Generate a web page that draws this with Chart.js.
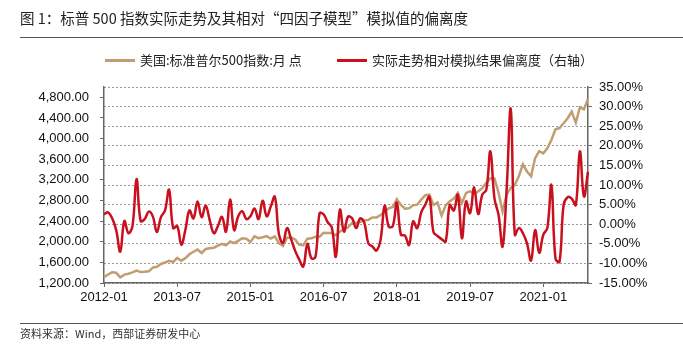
<!DOCTYPE html>
<html>
<head>
<meta charset="utf-8">
<script src="https://cdn.jsdelivr.net/npm/chart.js@4.4.1/dist/chart.umd.min.js"></script>
<style>
body { margin: 0; background: #fff; }
#wrap { position: relative; width: 683px; height: 353px; font-family: "Noto Sans CJK SC", sans-serif; color: #222; }
#wrap canvas { position: absolute; left: 0; top: 0; }
#title { position: absolute; left: 20px; top: 7px; font-size: 14.5px; white-space: nowrap; }
.rule { position: absolute; left: 20px; right: 0; height: 1px; background: #555; }
.lg { position: absolute; top: 51px; font-size: 13px; line-height: 18px; white-space: nowrap; }
.lg i { display: inline-block; width: 30px; height: 3px; vertical-align: middle; margin-right: 5px; position: relative; top: -1px; }
#src { position: absolute; left: 20px; top: 325px; font-size: 11px; white-space: nowrap; color: #333; }
</style>
</head>
<body>
<div id="wrap">
  <canvas id="chart" width="683" height="353"></canvas>
  <div id="title">图 1：标普 500 指数实际走势及其相对“四因子模型”模拟值的偏离度</div>
  <div class="rule" style="top:37px"></div>
  <div class="lg" style="left:105px"><i style="background:#C39D72"></i>美国:标准普尔500指数:月 点</div>
  <div class="lg" style="left:337px"><i style="background:#C8101E"></i>实际走势相对模拟结果偏离度（右轴）</div>
  <div class="rule" style="top:323px"></div>
  <div id="src">资料来源：Wind，西部证券研发中心</div>
</div>
<script>
// monthly categories 2012-01 .. 2021-12
var months = [];
for (var y = 2012; y <= 2021; y++) {
    for (var m = 1; m <= 12; m++) {
        months.push(y + '-' + (m < 10 ? '0' + m : m));
    }
}
var tickLabels = ['2012-01', '2013-07', '2015-01', '2016-07', '2018-01', '2019-07', '2021-01'];
var leftTicks = [1200, 1600, 2000, 2400, 2800, 3200, 3600, 4000, 4400, 4800];

// S&P 500, monthly close
var spx = [
    1312.41, 1365.68, 1408.47, 1397.91, 1310.33, 1362.16, 1379.32, 1406.58, 1440.67, 1412.16, 1416.18, 1426.19,
    1498.11, 1514.68, 1569.19, 1597.57, 1630.74, 1606.28, 1685.73, 1632.97, 1681.55, 1756.54, 1805.81, 1848.36,
    1782.59, 1859.45, 1872.34, 1883.95, 1923.57, 1960.23, 1930.67, 2003.37, 1972.29, 2018.05, 2067.56, 2058.90,
    1994.99, 2104.50, 2067.89, 2085.51, 2107.39, 2063.11, 2103.84, 1972.18, 1920.03, 2079.36, 2080.41, 2043.94,
    1940.24, 1932.23, 2059.74, 2065.30, 2096.95, 2098.86, 2173.60, 2170.95, 2168.27, 2126.15, 2198.81, 2238.83,
    2278.87, 2363.64, 2362.72, 2384.20, 2411.80, 2423.41, 2470.30, 2471.65, 2519.36, 2575.26, 2647.58, 2673.61,
    2823.81, 2713.83, 2640.87, 2648.05, 2705.27, 2718.37, 2816.29, 2901.52, 2913.98, 2711.74, 2760.17, 2506.85,
    2704.10, 2784.49, 2834.40, 2945.83, 2752.06, 2941.76, 2980.38, 2926.46, 2976.74, 3037.56, 3140.98, 3230.78,
    3225.52, 2954.22, 2584.59, 2912.43, 3044.31, 3100.29, 3271.12, 3500.31, 3363.00, 3269.96, 3621.63, 3756.07,
    3714.24, 3811.15, 3972.89, 4181.17, 4204.11, 4297.50, 4395.26, 4522.68, 4307.54, 4605.38, 4567.00, 4766.18
];

// deviation from the four-factor model, % (right axis)
var deviation = [
    2.5, 3.0, 1.5, -1.5, -7.0, 0.8, -2.3, -0.5, 11.5, 0.8, 1.3, 3.2,
    2.0, -2.0, 1.8, 3.5, 8.8, -1.0, -0.5, -5.2, -1.5, 3.5, 1.5, 5.8,
    1.8, 4.7, 1.0, -2.3, -0.5, 1.9, -1.9, 6.3, -1.5, 2.0, 3.3, 1.3,
    2.0, 4.0, 1.3, 6.0, 2.0, 4.5, 7.0, -2.5, -4.8, -1.0, -3.8, -6.8,
    -9.0, -10.8, -5.0, -8.7, -8.3, 2.8, 2.5, 0.5, -0.8, -8.3, 3.7, -1.9,
    1.9, 1.5, -1.0, 1.5, 0.4, -4.9, -5.7, -6.7, -4.0, 4.7, -0.6, -0.5,
    5.5, -2.7, -2.9, -5.3, 0.7, -1.0, 3.0, 5.0, 7.0, -2.0, -3.0, -3.8,
    -4.4, 4.9, 3.5, 7.5, -3.6, 5.8, 2.8, 9.4, 2.6, 7.5, 8.8, 18.6,
    6.6, 2.4, -5.7, 9.0, 29.4, -2.7, -1.0, -2.3, -4.9, -9.3, -1.5, -7.3,
    -2.7, -1.0, 10.0, -8.7, -9.6, 4.9, 6.9, 6.5, 4.9, 18.6, 7.1, 13.4
];

var tickFont = { family: 'Liberation Sans', size: 13 };

var ctx = document.getElementById('chart').getContext('2d');
var chart = new Chart(ctx, {
    type: 'line',
    data: {
        labels: months,
        datasets: [{
            label: '美国:标准普尔500指数:月 点',
            data: spx,
            yAxisID: 'y',
            borderColor: '#C39D72',
            backgroundColor: '#C39D72',
            borderWidth: 2.5,
            pointRadius: 0,
            tension: 0,
            order: 1
        }, {
            label: '实际走势相对模拟结果偏离度（右轴）',
            data: deviation,
            yAxisID: 'y1',
            borderColor: '#C8101E',
            backgroundColor: '#C8101E',
            borderWidth: 2.5,
            pointRadius: 0,
            tension: 0.4,
            order: 0
        }]
    },
    options: {
        responsive: false,
        animation: false,
        layout: { padding: { top: 87, bottom: 40, left: 0, right: 0 } },
        plugins: {
            legend: { display: false },
            tooltip: { enabled: false }
        },
        scales: {
            x: {
                offset: false,
                grid: { drawOnChartArea: false, tickLength: 4, color: '#666' },
                border: { color: '#666', width: 1.5 },
                ticks: { autoSkip: false, maxRotation: 0, padding: 3, color: '#111', font: tickFont },
                afterBuildTicks: function (scale) {
                    scale.ticks = scale.ticks.filter(function (t) {
                        return tickLabels.indexOf(months[t.value]) !== -1;
                    });
                },
                afterFit: function (scale) { scale.height = 30; }
            },
            y: {
                position: 'left',
                min: 1200,
                max: 5000,
                grid: { drawOnChartArea: false, tickLength: 4, color: '#666' },
                border: { color: '#666', width: 1.5 },
                ticks: {
                    padding: 11,
                    color: '#111',
                    font: tickFont,
                    callback: function (v) {
                        return v.toLocaleString('en-US', { minimumFractionDigits: 2, maximumFractionDigits: 2 });
                    }
                },
                afterBuildTicks: function (scale) {
                    scale.ticks = leftTicks.map(function (v) { return { value: v }; });
                },
                afterFit: function (scale) { scale.width = 104; }
            },
            y1: {
                position: 'right',
                min: -15,
                max: 35,
                grid: { color: '#9a9a9a', lineWidth: 1, tickLength: 4, tickColor: '#666', tickBorderDash: [] },
                border: { color: '#666', width: 1.5, dash: [2, 2] },
                ticks: {
                    stepSize: 5,
                    padding: 7,
                    color: '#111',
                    font: tickFont,
                    callback: function (v) { return v.toFixed(2) + '%'; }
                },
                afterFit: function (scale) { scale.width = 95; }
            }
        }
    }
});
</script>
</body>
</html>
